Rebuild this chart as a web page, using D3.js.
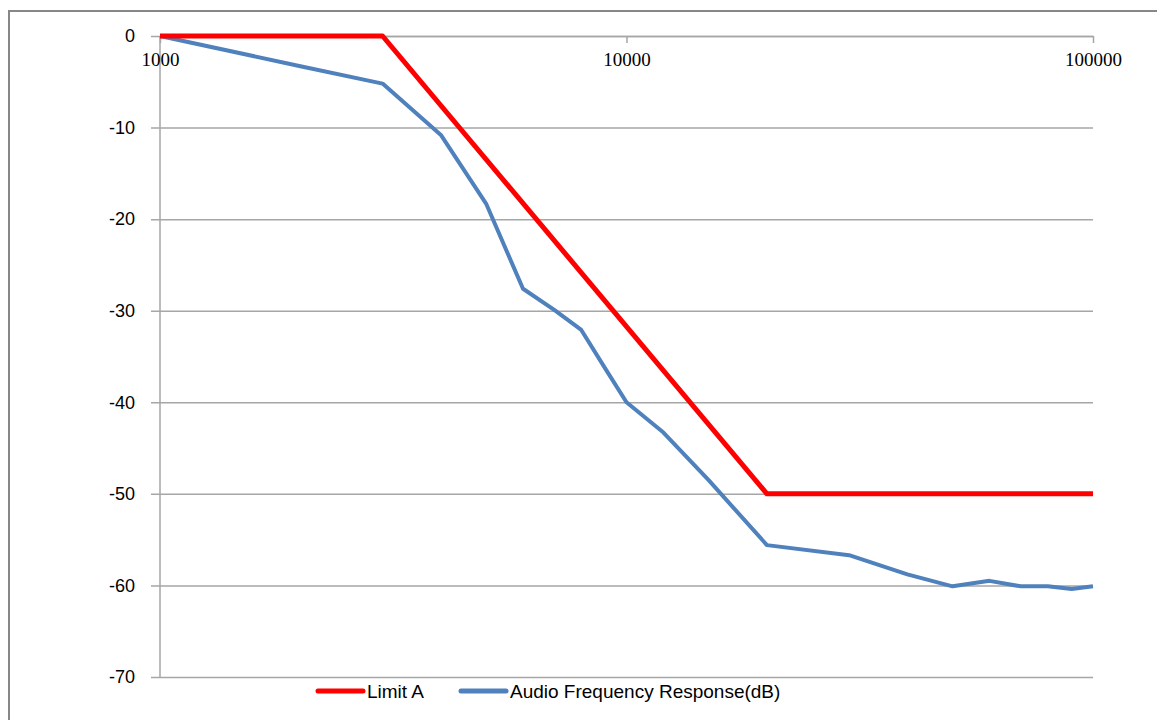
<!DOCTYPE html>
<html>
<head>
<meta charset="utf-8">
<script src="https://cdn.jsdelivr.net/npm/d3@7"></script>
<style>
  body { margin: 0; background: #fff; }
  svg { display: block; }
</style>
</head>
<body>
<div id="chart"></div>
<script>
// Limit A mask (dB) against frequency (Hz)
const limitFreq = [1000, 3000, 20000, 100000];
const limitDb = [0, 0, -50, -50];

// measured audio frequency response (dB)
const respFreq = [1000, 2000, 3000, 4000, 5000, 6000, 7000, 8000, 9000, 10000, 12000, 15000, 20000, 30000, 40000, 50000, 60000, 70000, 80000, 90000, 100000];
const respDb = [0, -3.3, -5.2, -10.8, -18.3, -27.6, -29.9, -32.1, -36.3, -40.0, -43.3, -48.5, -55.6, -56.7, -58.8, -60.1, -59.5, -60.1, -60.1, -60.4, -60.1];

const xTicks = [1000, 10000, 100000];
const yTicks = [0, -10, -20, -30, -40, -50, -60, -70];

const seriesNames = ["Limit A", "Audio Frequency Response(dB)"];
const seriesColors = ["#ff0000", "#4f81bd"];

const W = 1157, H = 720;
const margin = {top: 36, right: 64, bottom: 43, left: 160};
const width = 1093 - margin.left,
      height = 677 - margin.top;

const svg = d3.select("#chart")
  .append("svg")
  .attr("width", W)
  .attr("height", H);

// outer chart border
svg.append("rect")
  .attr("x", 9)
  .attr("y", 11)
  .attr("width", W + 20)
  .attr("height", H + 20)
  .attr("fill", "#fff")
  .attr("stroke", "#878787")
  .attr("stroke-width", 2);

const chart = svg.append("g")
  .attr("transform", `translate(${margin.left}, ${margin.top})`);

const x = d3.scaleLog()
  .domain([1000, 100000])
  .range([0, width]);

const y = d3.scaleLinear()
  .domain([-70, 0])
  .range([height, 0]);

// horizontal gridlines + y ticks (plain hyphen for negatives)
const yAxis = chart.append("g")
  .attr("class", "y axis")
  .call(d3.axisLeft(y).tickValues(yTicks).tickSize(-width).tickSizeOuter(0).tickFormat(d => String(d)));
yAxis.select(".domain").remove();
yAxis.selectAll("line")
  .attr("x1", -9)
  .attr("stroke", "#a6a6a6")
  .attr("stroke-width", 1.5);
yAxis.selectAll("text")
  .attr("x", -25)
  .style("font-family", "'Liberation Sans', Arial, sans-serif")
  .style("font-size", "18px")
  .attr("fill", "#000");

// vertical axis line
chart.append("line")
  .attr("x1", 0).attr("x2", 0)
  .attr("y1", 0).attr("y2", height)
  .attr("stroke", "#a6a6a6")
  .attr("stroke-width", 1.5);

// x axis sits on the 0 dB line
const xAxis = chart.append("g")
  .attr("class", "x axis")
  .call(d3.axisBottom(x).tickValues(xTicks).tickSize(7).tickSizeOuter(0).tickPadding(10).tickFormat(d => String(d)));
xAxis.select(".domain")
  .attr("stroke", "#a6a6a6")
  .attr("stroke-width", 1.5);
xAxis.selectAll("line")
  .attr("stroke", "#a6a6a6")
  .attr("stroke-width", 1.5);
xAxis.selectAll("text")
  .style("font-family", "'Liberation Serif', 'Times New Roman', serif")
  .style("font-size", "19px")
  .attr("fill", "#000");

const line = d3.line()
  .x(d => x(d[0]))
  .y(d => y(d[1]));

chart.append("path")
  .datum(respFreq.map((f, i) => [f, respDb[i]]))
  .attr("d", line)
  .attr("fill", "none")
  .attr("stroke", seriesColors[1])
  .attr("stroke-width", 4)
  .attr("stroke-linejoin", "round");

chart.append("path")
  .datum(limitFreq.map((f, i) => [f, limitDb[i]]))
  .attr("d", line)
  .attr("fill", "none")
  .attr("stroke", seriesColors[0])
  .attr("stroke-width", 5)
  .attr("stroke-linejoin", "round");

// legend
const legendX = [318, 461];
const legend = svg.append("g");
seriesNames.forEach((name, i) => {
  legend.append("line")
    .attr("x1", legendX[i]).attr("x2", legendX[i] + 45)
    .attr("y1", 691).attr("y2", 691)
    .attr("stroke", seriesColors[i])
    .attr("stroke-width", 5)
    .attr("stroke-linecap", "round");
  legend.append("text")
    .attr("x", legendX[i] + 49)
    .attr("y", 698)
    .style("font-family", "'Liberation Sans', Arial, sans-serif")
    .style("font-size", "19px")
    .attr("fill", "#000")
    .text(name);
});
</script>
</body>
</html>
